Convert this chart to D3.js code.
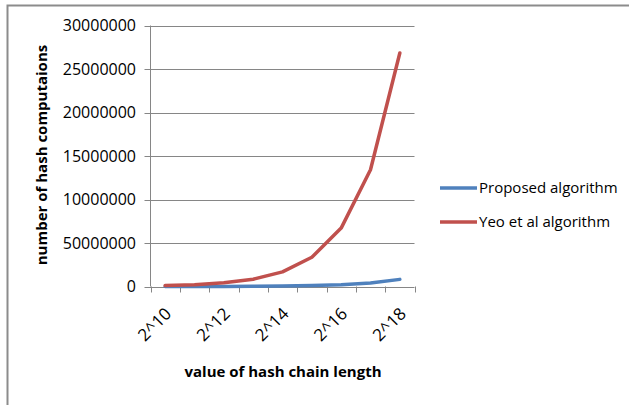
<!DOCTYPE html>
<html>
<head>
<meta charset="utf-8">
<script src="https://cdn.jsdelivr.net/npm/d3@7"></script>
<style>
  html, body { margin: 0; padding: 0; background: #fff; }
  svg { display: block; }
  text { font-family: "Open Sans", sans-serif; fill: #000; }
</style>
</head>
<body>
<svg id="chart" width="629" height="405"></svg>
<script>
// Hash chain lengths (2^10 .. 2^18)
const categories = ["2^10", "2^11", "2^12", "2^13", "2^14", "2^15", "2^16", "2^17", "2^18"];
// Labels shown on the x axis (every other category)
const shownLabels = ["2^10", "2^12", "2^14", "2^16", "2^18"];
// Number of hash computations per algorithm
const proposed = [3200, 6400, 12800, 25600, 51200, 102400, 204800, 409600, 819200];
const yeo = [104858, 209715, 419430, 838861, 1677722, 3355443, 6710886, 13421773, 26843546];
// Y axis ticks and their printed labels
const yTicks = [0, 5000000, 10000000, 15000000, 20000000, 25000000, 30000000];
const yTickLabels = ["0", "50000000", "10000000", "15000000", "20000000", "25000000", "30000000"];

const series = [
  { name: "Proposed algorithm", values: proposed, color: "#4F81BD" },
  { name: "Yeo et al algorithm", values: yeo, color: "#C0504D" }
];

const svg = d3.select("#chart");

// Outer frame (top and left edges)
svg.append("path")
  .attr("d", "M7.5,405 L7.5,5.5 L629,5.5")
  .attr("fill", "none")
  .attr("stroke", "#8c8c8c")
  .attr("stroke-width", 2);

const plot = { left: 150.5, right: 414.5, top: 25.5, bottom: 286.5 };

const x = d3.scaleBand().domain(categories).range([plot.left, plot.right]);
const y = d3.scaleLinear().domain([0, 30000000]).range([plot.bottom, plot.top]);

// Horizontal gridlines with left tick stubs
svg.append("g").selectAll("line")
  .data(yTicks)
  .join("line")
  .attr("x1", plot.left - 6)
  .attr("x2", plot.right)
  .attr("y1", d => Math.round(y(d)) + 0.5)
  .attr("y2", d => Math.round(y(d)) + 0.5)
  .attr("stroke", "#868686")
  .attr("stroke-width", 1);

// Y tick labels
svg.append("g").selectAll("text")
  .data(yTicks)
  .join("text")
  .attr("x", 136)
  .attr("y", d => y(d))
  .attr("dy", "0.36em")
  .attr("text-anchor", "end")
  .style("font-size", "16px")
  .text((d, i) => yTickLabels[i]);

// Y axis line
svg.append("line")
  .attr("x1", plot.left).attr("x2", plot.left)
  .attr("y1", plot.top).attr("y2", plot.bottom)
  .attr("stroke", "#868686");

// X tick marks at category boundaries
const boundaries = categories.map(c => x(c)).concat([plot.right]);
svg.append("g").selectAll("line")
  .data(boundaries)
  .join("line")
  .attr("x1", d => Math.round(d) + 0.5)
  .attr("x2", d => Math.round(d) + 0.5)
  .attr("y1", plot.bottom)
  .attr("y2", plot.bottom + 6)
  .attr("stroke", "#868686");

// Rotated x tick labels
svg.append("g").selectAll("text")
  .data(shownLabels)
  .join("text")
  .attr("transform", d => `translate(${x(d) + x.bandwidth() / 2 + 3},${plot.bottom + 24}) rotate(-45)`)
  .attr("text-anchor", "end")
  .attr("dy", "0.36em")
  .style("font-size", "17px")
  .text(d => d);

// Series lines
const line = d3.line()
  .x((d, i) => x(categories[i]) + x.bandwidth() / 2)
  .y(d => y(d));

svg.append("g").selectAll("path")
  .data(series)
  .join("path")
  .attr("d", s => line(s.values))
  .attr("fill", "none")
  .attr("stroke", s => s.color)
  .attr("stroke-width", 3.5)
  .attr("stroke-linejoin", "round")
  .attr("stroke-linecap", "round");

// Axis titles
svg.append("text")
  .attr("x", 283)
  .attr("y", 377)
  .attr("text-anchor", "middle")
  .style("font-size", "15px")
  .style("font-weight", "bold")
  .text("value of hash chain length");

svg.append("text")
  .attr("transform", "translate(47,155) rotate(-90)")
  .attr("text-anchor", "middle")
  .style("font-size", "15px")
  .style("font-weight", "bold")
  .text("number of hash computaions");

// Legend
const legend = svg.append("g").selectAll("g")
  .data(series)
  .join("g")
  .attr("transform", (d, i) => `translate(440,${188 + i * 34})`);

legend.append("line")
  .attr("x1", 0).attr("x2", 37)
  .attr("y1", 0).attr("y2", 0)
  .attr("stroke", d => d.color)
  .attr("stroke-width", 3.5);

legend.append("text")
  .attr("x", 39)
  .attr("y", 0)
  .attr("dy", "0.36em")
  .style("font-size", "15px")
  .text(d => d.name);
</script>
</body>
</html>
